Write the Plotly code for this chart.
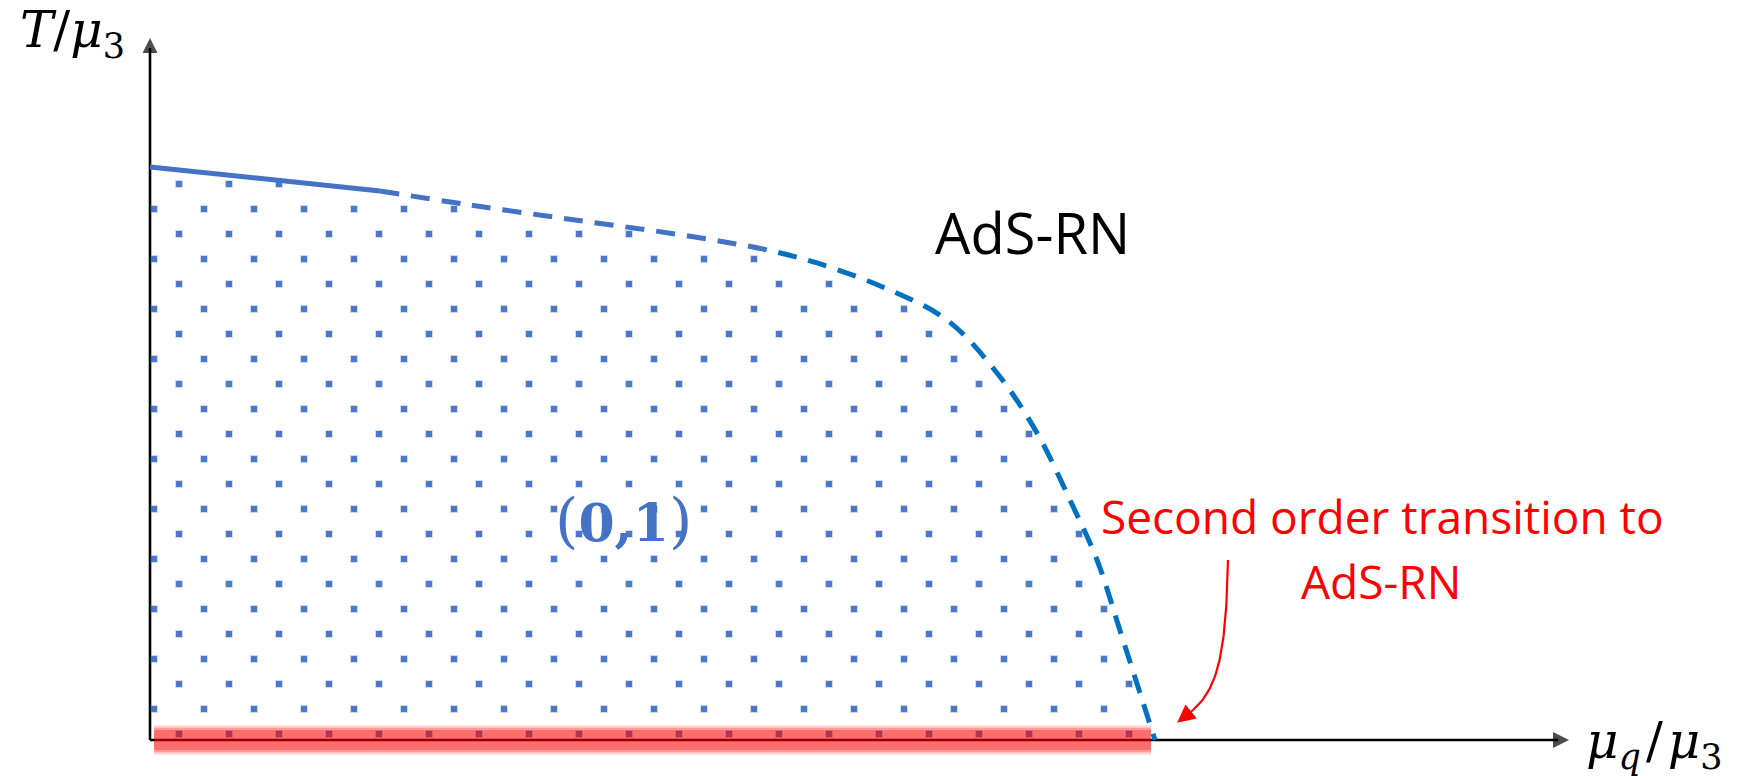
import numpy as np
import plotly.graph_objects as go

# ---------------------------------------------------------------------------
# Phase boundary T_c(mu_q) of the (0,1) phase, both axes in units of mu_3
# ---------------------------------------------------------------------------
# first-order part (solid)
mu_solid = [0.0, 0.115, 0.2289]
T_solid = [1.0, 0.979, 0.9581]

# continuation of the boundary (dashed)
mu_dash = [0.2289, 0.3184, 0.4229, 0.5294, 0.6119, 0.6637, 0.7313,
           0.7930, 0.8428, 0.8826, 0.9154, 0.9423, 0.9672, 1.0]
T_dash = [0.9581, 0.9337, 0.9075, 0.8813, 0.8560, 0.8325, 0.7888,
          0.7330, 0.6405, 0.5358, 0.4188, 0.3141, 0.1798, 0.0]

phase_label = ("<span style='font-size:60px'>(</span>"
               "<b>0,1</b>"
               "<span style='font-size:60px'>)</span>")
outer_label = "AdS-RN"
note_lines = ["Second order transition to", "AdS-RN"]
x_title = "<i>μ</i><sub><i>q</i></sub>\u200a/\u200a<i>μ</i><sub>3</sub>"
y_title = "<i>T</i>/<i>μ</i><sub>3</sub>"

# ---------------------------------------------------------------------------
# Figure geometry (pixels)
# ---------------------------------------------------------------------------
W, H = 1764, 776
X0_PX, Y0_PX = 150, 740          # origin of the diagram
PX_PER_MU, PX_PER_T = 1005, 573  # scale of the two axes
SPLIT_PX = 766                   # colour change along the dashed curve


def dx(xp):
    return (np.asarray(xp, dtype=float) - X0_PX) / PX_PER_MU


def dy(yp):
    return (Y0_PX - np.asarray(yp, dtype=float)) / PX_PER_T


BLUE = "#4472C4"
BLUE2 = "#0070C0"
RED = "#FF0000"

fig = go.Figure()

# --- dotted texture filling the region under the boundary -----------------
mu_all = np.array(mu_solid + mu_dash[1:])
T_all = np.array(T_solid + T_dash[1:])
mu_end = mu_dash[-1]

dot_x, dot_y = [], []
for k in range(23):
    yp = 184 + 25 * k
    xp = 179 if k % 2 == 0 else 154
    while xp < 1200:
        m, t = float(dx(xp)), float(dy(yp))
        if m <= mu_end and t <= np.interp(m, mu_all, T_all) - 3.0 / PX_PER_T:
            dot_x.append(m)
            dot_y.append(t)
        xp += 50

# soft halo + core give the slightly blurred square dots
fig.add_trace(go.Scatter(
    x=dot_x, y=dot_y, mode="markers",
    marker=dict(symbol="square", size=8, color=BLUE, opacity=0.25,
                line=dict(width=0)),
    hoverinfo="skip", showlegend=False))
fig.add_trace(go.Scatter(
    x=dot_x, y=dot_y, mode="markers",
    marker=dict(symbol="square", size=6, color=BLUE, opacity=0.95,
                line=dict(width=0)),
    hoverinfo="skip", showlegend=False))

# --- red band on the mu_q axis (second order line) -----------------------
for w, a in [(30, 0.10), (27, 0.14), (24, 0.2), (20, 0.3)]:
    fig.add_trace(go.Scatter(
        x=[0.004, mu_end - 0.004], y=[0, 0], mode="lines",
        line=dict(color=f"rgba(255,0,0,{a})", width=w),
        hoverinfo="skip", showlegend=False))

# --- boundary curve ------------------------------------------------------
fig.add_trace(go.Scatter(
    x=mu_solid, y=T_solid, mode="lines",
    line=dict(color=BLUE, width=5),
    hoverinfo="skip", showlegend=False))

# the dashed curve is drawn twice, each copy clipped to its own x-window,
# so the colour changes without breaking the dash rhythm
for axis, colour in [("x2", BLUE), ("x3", BLUE2)]:
    fig.add_trace(go.Scatter(
        x=mu_dash, y=T_dash, mode="lines", xaxis=axis, yaxis="y",
        line=dict(color=colour, width=5, dash="19px,12px", shape="spline",
                  simplify=False),
        hoverinfo="skip", showlegend=False))

# --- curved red pointer towards the end point of the boundary ------------
p0, p1, p2, p3 = (1228, 560), (1226, 655), (1218, 692), (1188, 714)
s = np.linspace(0, 1, 60)
bx = ((1 - s) ** 3 * p0[0] + 3 * (1 - s) ** 2 * s * p1[0]
      + 3 * (1 - s) * s ** 2 * p2[0] + s ** 3 * p3[0])
by = ((1 - s) ** 3 * p0[1] + 3 * (1 - s) ** 2 * s * p1[1]
      + 3 * (1 - s) * s ** 2 * p2[1] + s ** 3 * p3[1])
fig.add_trace(go.Scatter(
    x=dx(bx), y=dy(by), mode="lines",
    line=dict(color=RED, width=2.2),
    hoverinfo="skip", showlegend=False))

ux, uy = bx[-1] - bx[-5], by[-1] - by[-5]
norm = np.hypot(ux, uy)
ux, uy = ux / norm, uy / norm
tip_x, tip_y = bx[-1] + 14 * ux, by[-1] + 14 * uy
head_angle = float(np.degrees(np.arctan2(ux, -uy))) % 360
fig.add_trace(go.Scatter(
    x=[float(dx(tip_x))], y=[float(dy(tip_y))], mode="markers",
    marker=dict(symbol="arrow-up", size=18, color=RED, angle=head_angle,
                line=dict(width=0)),
    hoverinfo="skip", showlegend=False))

# --- axis arrow heads ----------------------------------------------------
fig.add_trace(go.Scatter(
    x=[0.0, float(dx(1569))], y=[float(dy(38)), 0.0], mode="markers",
    marker=dict(symbol=["arrow-up", "arrow-right"], size=[15, 16],
                color="black", line=dict(width=0)),
    hoverinfo="skip", showlegend=False))


def text_at(xp, yp, text, size, color, family, xanchor="center"):
    return dict(x=xp / W, y=1 - yp / H, xref="paper", yref="paper",
                text=text, showarrow=False, xanchor=xanchor,
                yanchor="middle",
                font=dict(size=size, color=color, family=family))


annotations = [
    text_at(18, 34, y_title, 50, "black", "DejaVu Serif", xanchor="left"),
    text_at(1584, 744, x_title, 50, "black", "DejaVu Serif", xanchor="left"),
    text_at(1032, 232, outer_label, 56, "black", "Open Sans"),
    text_at(1382, 516, note_lines[0], 46, RED, "Open Sans"),
    text_at(1381, 581, note_lines[1], 46, RED, "Open Sans"),
    text_at(623, 520, phase_label, 52, BLUE, "DejaVu Serif"),
]

shapes = [
    dict(type="line", xref="x", yref="y", x0=0, y0=0, x1=0,
         y1=float(dy(48)), line=dict(color="black", width=2.6),
         layer="below"),
    dict(type="line", xref="x", yref="y", x0=0, y0=0, x1=float(dx(1558)),
         y1=0, line=dict(color="black", width=2.6), layer="below"),
]

common_axis = dict(visible=False, fixedrange=True)
fig.update_layout(
    width=W, height=H,
    margin=dict(l=0, r=0, t=0, b=0),
    paper_bgcolor="white", plot_bgcolor="rgba(0,0,0,0)",
    xaxis=dict(range=[float(dx(0)), float(dx(W))], domain=[0, 1],
               **common_axis),
    xaxis2=dict(range=[float(dx(0)), float(dx(SPLIT_PX))],
                domain=[0, SPLIT_PX / W], anchor="y", **common_axis),
    xaxis3=dict(range=[float(dx(SPLIT_PX)), float(dx(W))],
                domain=[SPLIT_PX / W, 1], anchor="y", **common_axis),
    yaxis=dict(range=[float(dy(H)), float(dy(0))], domain=[0, 1],
               **common_axis),
    annotations=annotations, shapes=shapes,
    showlegend=False, hovermode=False,
)

fig.write_html("out.html", config={"displayModeBar": False})
